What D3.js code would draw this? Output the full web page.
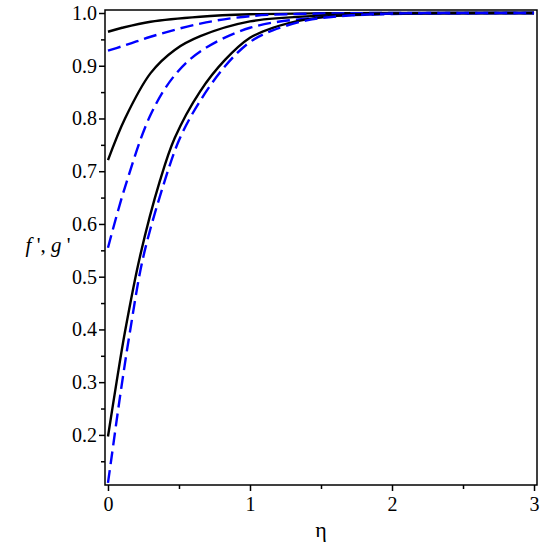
<!DOCTYPE html>
<html>
<head>
<meta charset="utf-8">
<script src="https://cdn.jsdelivr.net/npm/d3@7"></script>
<style>
  body { margin: 0; background: white; }
</style>
</head>
<body>
<div id="chart"></div>
<script>
let chart_width = 545;
let chart_height = 550;
let serif = "Liberation Serif, Times New Roman, DejaVu Serif, serif";

// eta values and curves
let eta_A = [0, 0.1, 0.3, 0.65, 1.0, 1.5, 2, 3];
let f_A   = [0.9645, 0.972, 0.9835, 0.993, 0.9975, 0.9995, 1.0, 1.0];

let eta_B = [0, 0.1, 0.2, 0.3, 0.65, 1.0, 1.5, 2, 3];
let g_B   = [0.9285, 0.937, 0.946, 0.955, 0.980, 0.994, 0.999, 1.0, 1.0];

let eta_C = [0, 0.12, 0.3, 0.47, 0.65, 1.0, 1.5, 2, 3];
let f_C   = [0.721, 0.80, 0.886, 0.930, 0.956, 0.984, 0.995, 0.999, 1.0];

let eta_D = [0, 0.12, 0.3, 0.47, 0.65, 1.0, 1.5, 2, 3];
let g_D   = [0.555, 0.67, 0.807, 0.882, 0.927, 0.972, 0.992, 0.998, 1.0];

let eta_E = [0, 0.061, 0.12, 0.225, 0.366, 0.47, 0.648, 0.824, 1.0, 1.16, 1.4, 1.63, 2, 2.5, 3];
let f_E   = [0.197, 0.301, 0.396, 0.538, 0.682, 0.763, 0.851, 0.911, 0.953, 0.972, 0.988, 0.995, 0.999, 1.0, 1.0];

let eta_F = [0, 0.026, 0.085, 0.155, 0.249, 0.40, 0.507, 0.648, 0.824, 1.0, 1.16, 1.4, 1.63, 2, 2.5, 3];
let g_F   = [0.109, 0.159, 0.273, 0.396, 0.538, 0.682, 0.763, 0.833, 0.899, 0.945, 0.967, 0.986, 0.994, 0.999, 1.0, 1.0];

let x_ticks = [0, 1, 2, 3];
let x_minor = [0.5, 1.5, 2.5];
let y_ticks = [0.2, 0.3, 0.4, 0.5, 0.6, 0.7, 0.8, 0.9, 1.0];
let y_minor = [0.15, 0.25, 0.35, 0.45, 0.55, 0.65, 0.75, 0.85, 0.95];

let series = [
    { "eta": eta_A, "vals": f_A, "type": "f" },
    { "eta": eta_B, "vals": g_B, "type": "g" },
    { "eta": eta_C, "vals": f_C, "type": "f" },
    { "eta": eta_D, "vals": g_D, "type": "g" },
    { "eta": eta_E, "vals": f_E, "type": "f" },
    { "eta": eta_F, "vals": g_F, "type": "g" }
];

let m_left = 105, m_right = 537, m_top = 10, m_bottom = 485;

let xScale = d3.scaleLinear().domain([-0.021, 3.021]).range([m_left, m_right]);
let yScale = d3.scaleLinear().domain([0.105, 1.0057]).range([m_bottom, m_top]);

let svg = d3.select("#chart")
    .append("svg")
    .attr("width", chart_width)
    .attr("height", chart_height);

svg.append("defs").append("clipPath")
    .attr("id", "clip")
    .append("rect")
    .attr("x", m_left)
    .attr("y", m_top)
    .attr("width", m_right - m_left)
    .attr("height", m_bottom - m_top);

let line = d3.line()
    .x(function(d) { return xScale(d[0]); })
    .y(function(d) { return yScale(d[1]); })
    .curve(d3.curveCatmullRom.alpha(0.5));

let chart = svg.append("g").attr("clip-path", "url(#clip)");

chart.selectAll("path")
    .data(series)
    .enter()
    .append("path")
    .attr("d", function(d) {
        return line(d.eta.map(function(e, i) { return [e, d.vals[i]]; }));
    })
    .attr("fill", "none")
    .attr("stroke", function(d) { return d.type == "f" ? "black" : "#0000ff"; })
    .attr("stroke-width", 2.4)
    .attr("stroke-dasharray", function(d) { return d.type == "f" ? null : "13,6"; });

// frame
svg.append("rect")
    .attr("x", m_left)
    .attr("y", m_top)
    .attr("width", m_right - m_left)
    .attr("height", m_bottom - m_top)
    .attr("fill", "none")
    .attr("stroke", "black")
    .attr("stroke-width", 1.5);

// x axis
let x_axis = svg.append("g").attr("transform", "translate(0," + m_bottom + ")");
x_axis.call(d3.axisBottom(xScale).tickValues(x_ticks).tickFormat(d3.format("d")).tickSize(6).tickSizeOuter(0));
svg.append("g").attr("transform", "translate(0," + m_bottom + ")")
    .call(d3.axisBottom(xScale).tickValues(x_minor).tickFormat("").tickSize(4).tickSizeOuter(0));

// y axis
let y_axis = svg.append("g").attr("transform", "translate(" + m_left + ",0)");
y_axis.call(d3.axisLeft(yScale).tickValues(y_ticks).tickFormat(d3.format(".1f")).tickSize(6).tickSizeOuter(0));
svg.append("g").attr("transform", "translate(" + m_left + ",0)")
    .call(d3.axisLeft(yScale).tickValues(y_minor).tickFormat("").tickSize(4).tickSizeOuter(0));

svg.selectAll(".domain").remove();
svg.selectAll("g").attr("font-family", serif).attr("font-size", 20);
svg.selectAll(".tick line").attr("stroke-width", 1.5);
svg.selectAll(".tick text").attr("fill", "black");
x_axis.selectAll(".tick text").attr("dy", "0.9em").attr("y", 8);
y_axis.selectAll(".tick text").attr("x", -8);

svg.append("text")
    .attr("x", (m_left + m_right) / 2)
    .attr("y", 537)
    .attr("text-anchor", "middle")
    .attr("font-family", serif)
    .attr("font-size", 22)
    .text("η");

let ylab = svg.append("text")
    .attr("x", 48)
    .attr("y", 252)
    .attr("text-anchor", "middle")
    .attr("font-family", serif)
    .attr("font-size", 21);
ylab.append("tspan").attr("font-style", "italic").text("f");
ylab.append("tspan").text(" ',");
ylab.append("tspan").attr("font-style", "italic").text(" g");
ylab.append("tspan").text(" '");
</script>
</body>
</html>
